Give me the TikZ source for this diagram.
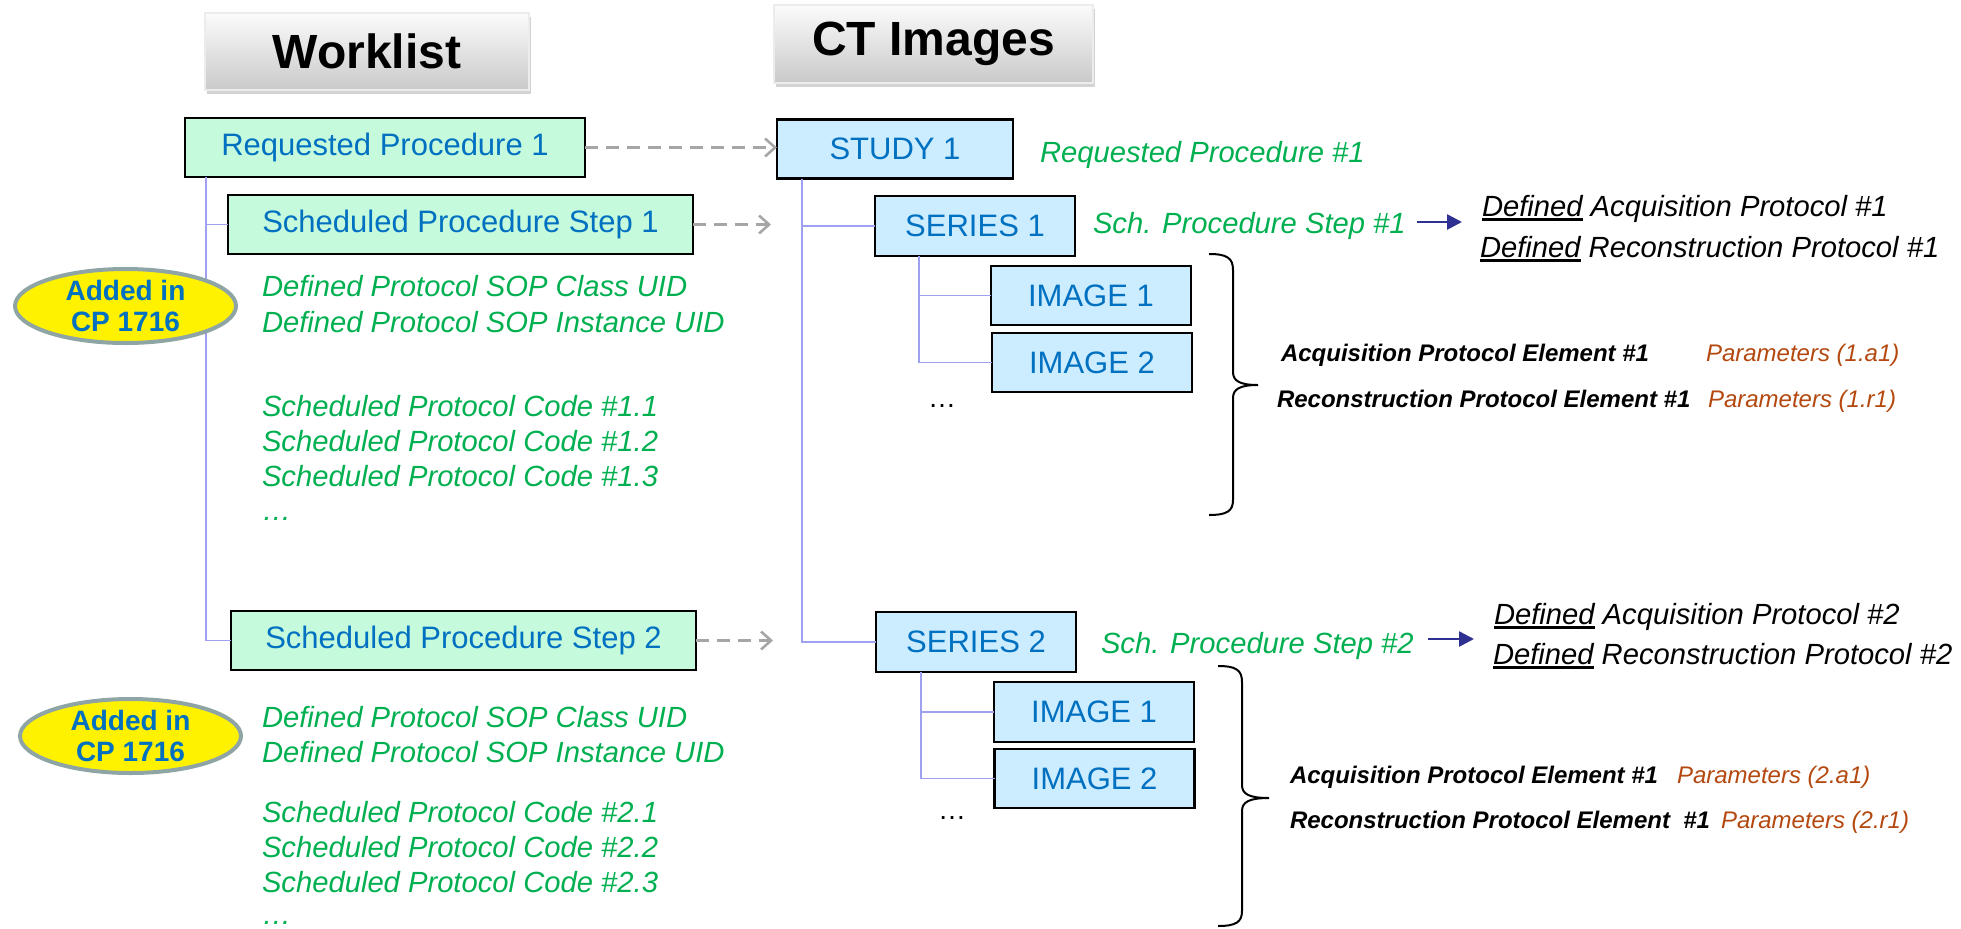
\documentclass[tikz,border=0pt]{standalone}
\usepackage{fontspec}
\setmainfont{Liberation Sans}
\usetikzlibrary{arrows.meta,shapes.geometric,shadows}

\definecolor{mint}{HTML}{C6FADC}
\definecolor{skyfill}{HTML}{CCECFF}
\definecolor{boxtext}{HTML}{0070C0}
\definecolor{leaf}{HTML}{00B050}
\definecolor{rust}{HTML}{B4480F}
\definecolor{treeline}{HTML}{A0A0F0}
\definecolor{navy}{HTML}{2E3192}
\definecolor{dashgray}{HTML}{A6A6A6}
\definecolor{ovalrim}{HTML}{8FA5A5}

% thick underline for a single word
\newcommand{\ulword}[1]{\setbox0=\hbox{#1}\rlap{\rule[-2.6pt]{\wd0}{1.5pt}}\box0\relax}

\begin{document}
\begin{tikzpicture}[x=0.5pt,y=-0.5pt,
  every node/.style={inner sep=0pt, outer sep=0pt},
  header/.style={draw=gray!15, line width=0.6pt, top color=gray!3, bottom color=gray!42,
    drop shadow={shadow xshift=1pt, shadow yshift=-2pt, opacity=0.35},
    font=\fontsize{24}{28}\selectfont\bfseries},
  gbox/.style={draw=black, line width=1.2pt, fill=mint, text=boxtext,
    minimum width=232.5pt, minimum height=29.5pt, font=\fontsize{15.5}{18}\selectfont},
  ctbox/.style={draw=black, line width=1.2pt, fill=skyfill, text=boxtext,
    minimum width=100pt, minimum height=29.5pt, font=\fontsize{15.5}{18}\selectfont},
  note/.style={anchor=base west, text=leaf, font=\fontsize{14.6}{17}\selectfont\itshape},
  defn/.style={anchor=base west, text=black, font=\fontsize{14.6}{17}\selectfont\itshape},
  elem/.style={anchor=base west, text=black, font=\fontsize{12}{14}\selectfont\bfseries\itshape},
  param/.style={anchor=base west, text=rust, font=\fontsize{12}{14}\selectfont\itshape},
  more/.style={anchor=base west, text=black, font=\fontsize{14}{16}\selectfont},
  tree/.style={draw=treeline, line width=0.9pt},
  link/.style={draw=dashgray, line width=1.3pt, dash pattern=on 6.5pt off 4pt,
    -{Straight Barb[length=5pt,width=9pt]}},
  pointer/.style={draw=navy, line width=1.3pt, -{Triangle[length=7.5pt,width=7.5pt]}},
  bracepath/.style={draw=black, line width=1pt},
  oval/.style={ellipse, draw=ovalrim, line width=2pt, fill=yellow,
    minimum width=110.5pt, minimum height=37pt},
  ovaltext/.style={text=boxtext, align=center, font=\fontsize{14}{15.5}\selectfont\bfseries}
]
\useasboundingbox (0,0) rectangle (1961,928);

% column headers
\node[header, minimum width=162pt, minimum height=38.5pt] (wl) at (367,51.5) {Worklist};
\node[header, minimum width=159.5pt, minimum height=39pt] (ct) at (933.5,44) {CT Images};

% worklist side
\node[gbox, minimum width=200pt] (rp) at (385,147.5) {Requested Procedure 1};
\node[gbox] (sps1) at (460.5,224.5) {Scheduled Procedure Step 1};
\node[gbox] (sps2) at (463.5,640.5) {Scheduled Procedure Step 2};

% image side
\node[ctbox, minimum width=118pt] (st) at (895,149) {STUDY 1};
\node[ctbox, minimum height=30pt] (se1) at (975,226) {SERIES 1};
\node[ctbox] (im11) at (1091,295.5) {IMAGE 1};
\node[ctbox] (im12) at (1092,362.5) {IMAGE 2};
\node[ctbox, minimum height=30pt] (se2) at (976,642) {SERIES 2};
\node[ctbox, minimum height=30pt] (im21) at (1094,712) {IMAGE 1};
\node[ctbox] (im22) at (1094.5,778.5) {IMAGE 2};
\node[more] (more1) at (928,407) {…};
\node[more] (more2) at (938,819) {…};

% hierarchy lines
\draw[tree] ([xshift=10.5pt]rp.south west) |- (sps2.west);
\draw[tree] ([xshift=-11pt]sps1.west) -- (sps1.west);
\draw[tree] ([xshift=12.5pt]st.south west) |- (se2.west);
\draw[tree] ([xshift=-36.5pt]se1.west) -- (se1.west);
\draw[tree] ([xshift=22pt]se1.south west) |- (im12.west);
\draw[tree] ([xshift=-36pt]im11.west) -- (im11.west);
\draw[tree] ([xshift=22.5pt]se2.south west) |- (im22.west);
\draw[tree] ([xshift=-36.5pt]im21.west) -- (im21.west);

% worklist to image links
\coordinate (s1tip) at (771,224.5);
\coordinate (s2tip) at (773,640.5);
\draw[link] (rp.east) -- (rp.east -| st.west);
\draw[link] (sps1.east) -- (s1tip);
\draw[link] (sps2.east) -- (s2tip);

% CP 1716 badges
\node[oval] (add1) at (125.5,306) {};
\node[ovaltext] (add1t) at (add1) {Added in\\CP 1716};
\node[oval] (add2) at (130.5,736) {};
\node[ovaltext] (add2t) at (add2) {Added in\\CP 1716};

% attributes of step 1
\node[note] (n11) at (262,296.5) {Defined Protocol SOP Class UID};
\node[note] (n12) at (262,332.5) {Defined Protocol SOP Instance UID};
\node[note] (n13) at (262,416.5) {Scheduled Protocol Code \#1.1};
\node[note] (n14) at (262,451) {Scheduled Protocol Code \#1.2};
\node[note] (n15) at (262,486) {Scheduled Protocol Code \#1.3};
\node[note] (n16) at (262,520) {…};

% attributes of step 2
\node[note] (n21) at (262,727.5) {Defined Protocol SOP Class UID};
\node[note] (n22) at (262,762.5) {Defined Protocol SOP Instance UID};
\node[note] (n23) at (262,822.5) {Scheduled Protocol Code \#2.1};
\node[note] (n24) at (262,857.5) {Scheduled Protocol Code \#2.2};
\node[note] (n25) at (262,892.5) {Scheduled Protocol Code \#2.3};
\node[note] (n26) at (262,924) {…};

% study / series annotations
\node[note] (rpn) at (1040,162.5) {Requested Procedure \#1};
\node[note] (sch1) at (1093,233.5) {Sch. Procedure Step \#1};
\node[defn] (da1) at (1482,216) {\ulword{Defined} Acquisition Protocol \#1};
\node[defn] (dr1) at (1480,257) {\ulword{Defined} Reconstruction Protocol \#1};
\coordinate (p1s) at (1417,222);
\coordinate (p1e) at (1462,222);
\draw[pointer] (p1s) -- (p1e);

\node[note] (sch2) at (1101,653.5) {Sch. Procedure Step \#2};
\node[defn] (da2) at (1494,624) {\ulword{Defined} Acquisition Protocol \#2};
\node[defn] (dr2) at (1493,664) {\ulword{Defined} Reconstruction Protocol \#2};
\coordinate (p2s) at (1428,639);
\coordinate (p2e) at (1474,639);
\draw[pointer] (p2s) -- (p2e);

% protocol elements of series 1
\draw[bracepath] (1209,254) .. controls (1227,254) and (1233,258) .. (1233,270)
  -- (1233,372) .. controls (1233,381) and (1240,385) .. (1258,385)
  .. controls (1240,385) and (1233,389) .. (1233,398)
  -- (1233,500) .. controls (1233,511) and (1227,515) .. (1209,515);
\node[elem] (ae1) at (1281,361) {Acquisition Protocol Element \#1};
\node[param] (pa1) at (1706,361) {Parameters (1.a1)};
\node[elem] (re1) at (1277,407.5) {Reconstruction Protocol Element \#1};
\node[param] (pr1) at (1708,407.5) {Parameters (1.r1)};

% protocol elements of series 2
\draw[bracepath] (1218,666) .. controls (1236,666) and (1242,670) .. (1242,682)
  -- (1242,785) .. controls (1242,794) and (1249,798) .. (1269,798)
  .. controls (1249,798) and (1242,802) .. (1242,811)
  -- (1242,911) .. controls (1242,922) and (1236,926) .. (1218,926);
\node[elem] (ae2) at (1290,783.5) {Acquisition Protocol Element \#1};
\node[param] (pa2) at (1677,783.5) {Parameters (2.a1)};
\node[elem] (re2) at (1290,828.5) {Reconstruction Protocol Element\ \ \#1};
\node[param] (pr2) at (1721,828.5) {Parameters (2.r1)};
\end{tikzpicture}
\end{document}
